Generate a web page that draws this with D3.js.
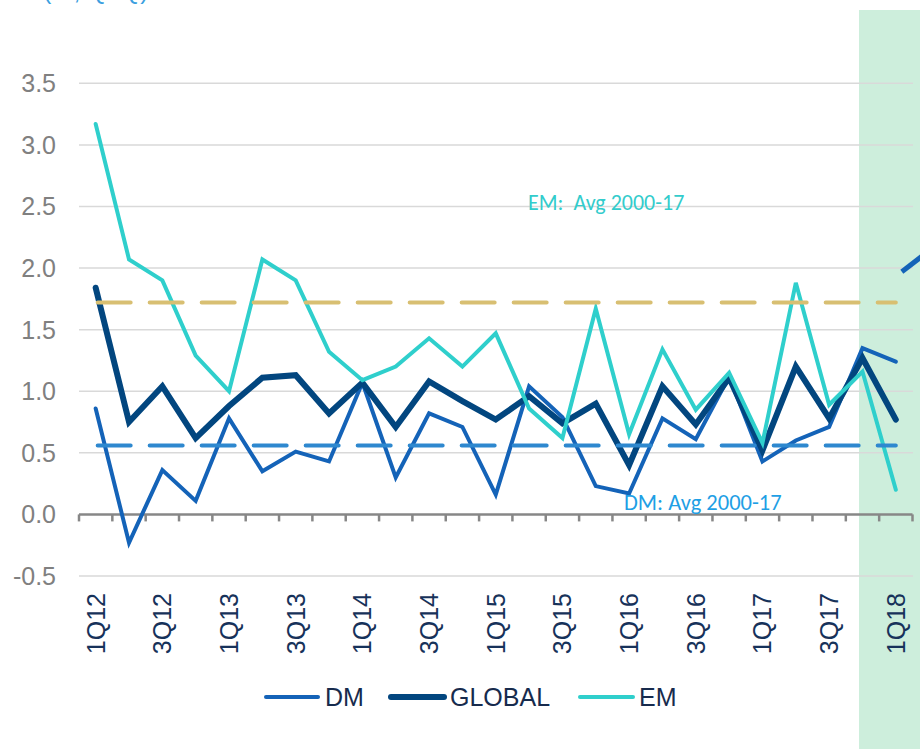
<!DOCTYPE html>
<html>
<head>
<meta charset="utf-8">
<script src="https://cdn.jsdelivr.net/npm/d3@7"></script>
<style>
  body { margin: 0; background: #fff; }
  svg { display: block; font-family: "Liberation Sans", Arial, sans-serif; }
</style>
</head>
<body>
<div class="chart-container"></div>
<script>
// quarters 1Q12 .. 1Q18
var quarters = ["1Q12","2Q12","3Q12","4Q12","1Q13","2Q13","3Q13","4Q13",
  "1Q14","2Q14","3Q14","4Q14","1Q15","2Q15","3Q15","4Q15",
  "1Q16","2Q16","3Q16","4Q16","1Q17","2Q17","3Q17","4Q17","1Q18"];

var dmValues = [0.86,-0.23,0.36,0.11,0.78,0.35,0.51,0.43,
  1.07,0.30,0.82,0.71,0.16,1.04,0.79,0.23,
  0.17,0.78,0.61,1.12,0.43,0.60,0.71,1.35,1.24];

var globalValues = [1.84,0.75,1.04,0.62,0.88,1.11,1.13,0.82,
  1.07,0.71,1.08,0.92,0.77,0.96,0.74,0.90,
  0.40,1.04,0.73,1.11,0.52,1.20,0.78,1.27,0.77];

var emValues = [3.17,2.07,1.90,1.29,1.00,2.07,1.90,1.32,
  1.09,1.20,1.43,1.20,1.47,0.86,0.62,1.67,
  0.65,1.34,0.85,1.15,0.58,1.88,0.89,1.16,0.20];

var emAvg = 1.72;
var dmAvg = 0.56;

var yTicks = [-0.5,0,0.5,1.0,1.5,2.0,2.5,3.0,3.5];
var xTickLabels = ["1Q12","3Q12","1Q13","3Q13","1Q14","3Q14","1Q15","3Q15",
  "1Q16","3Q16","1Q17","3Q17","1Q18"];

var series = [
  {name: "DM", values: dmValues, color: "#1463b8", width: 4},
  {name: "GLOBAL", values: globalValues, color: "#02467f", width: 6},
  {name: "EM", values: emValues, color: "#2fcfcc", width: 4}
];

var width = 920, height = 749;

var svg = d3.select(".chart-container")
  .append("svg")
    .attr("width", width)
    .attr("height", height);

var x = d3.scaleBand()
  .domain(quarters)
  .range([79, 912.5]);

var y = d3.scaleLinear()
  .domain([-0.5, 3.5])
  .range([576, 83.3]);

function cx(q){ return x(q) + x.bandwidth()/2; }

// shaded forecast area
svg.append("rect")
  .attr("x", cx("4Q17") - 3.5)
  .attr("y", 10)
  .attr("width", width - (cx("4Q17") - 3.5))
  .attr("height", height - 10)
  .style("fill", "#cdeedc");

// top label, cut off at the edge like the source
svg.append("text")
  .attr("x", 43)
  .attr("y", -1)
  .style("font-size", "25px")
  .style("fill", "#3c9fe0")
  .text("(%, QoQ)");

// gridlines
svg.append("g")
  .selectAll("line")
  .data(yTicks.filter(function(d){ return d != 0; }))
  .enter()
  .append("line")
    .attr("x1", 79)
    .attr("x2", 913)
    .attr("y1", function(d){ return y(d); })
    .attr("y2", function(d){ return y(d); })
    .style("stroke", "#d9d9d9")
    .style("stroke-width", 1.5);

// y labels (plain hyphen for negatives)
svg.append("g")
  .selectAll("text")
  .data(yTicks)
  .enter()
  .append("text")
    .attr("x", 56)
    .attr("y", function(d){ return y(d); })
    .attr("dy", "0.36em")
    .attr("text-anchor", "end")
    .style("font-size", "25px")
    .style("fill", "#808080")
    .text(function(d){ return d.toFixed(1); });

// x axis at zero
var gx = svg.append("g")
  .attr("transform", "translate(0," + y(0) + ")");
gx.append("line")
  .attr("x1", 79).attr("x2", 912.5)
  .style("stroke", "#878787").style("stroke-width", 2.5);
gx.selectAll(".band-tick")
  .data(quarters.concat(["end"]))
  .enter()
  .append("line")
    .attr("x1", function(d,i){ return 79 + i*x.step(); })
    .attr("x2", function(d,i){ return 79 + i*x.step(); })
    .attr("y1", 0).attr("y2", 7)
    .style("stroke", "#878787").style("stroke-width", 2.5);

// x tick labels rotated
svg.append("g")
  .selectAll("text")
  .data(xTickLabels)
  .enter()
  .append("text")
    .attr("transform", function(d){
      return "translate(" + cx(d) + ",593) rotate(-90)";
    })
    .attr("dy", "0.36em")
    .attr("text-anchor", "end")
    .style("font-size", "25px")
    .style("fill", "#17325a")
    .text(function(d){ return d; });

// data lines
var line = d3.line()
  .x(function(d,i){ return cx(quarters[i]); })
  .y(function(d){ return y(d); });

svg.append("g")
  .selectAll("path")
  .data(series)
  .enter()
  .append("path")
    .attr("d", function(d){ return line(d.values); })
    .style("fill", "none")
    .style("stroke", function(d){ return d.color; })
    .style("stroke-width", function(d){ return d.width; })
    .style("stroke-linejoin", "miter")
    .style("stroke-linecap", "round");

// average lines
var avgLines = [
  {value: emAvg, color: "#d8bf72"},
  {value: dmAvg, color: "#2e88cf"}
];
svg.append("g")
  .selectAll("line")
  .data(avgLines)
  .enter()
  .append("line")
    .attr("x1", cx("1Q12") + 2)
    .attr("x2", cx("1Q18"))
    .attr("y1", function(d){ return y(d.value); })
    .attr("y2", function(d){ return y(d.value); })
    .style("stroke", function(d){ return d.color; })
    .style("stroke-width", 4)
    .style("stroke-linecap", "round")
    .style("stroke-dasharray", "33,19");

// avg annotations
svg.append("text")
  .attr("x", 528).attr("y", 210)
  .style("font-family", "Carlito, Lato, sans-serif")
  .style("font-size", "22px")
  .style("fill", "#33cccc")
  .attr("xml:space", "preserve")
  .text("EM:  Avg 2000-17");

svg.append("text")
  .attr("x", 624).attr("y", 510)
  .style("font-family", "Carlito, Lato, sans-serif")
  .style("font-size", "22.5px")
  .style("fill", "#1f9fe5")
  .text("DM: Avg 2000-17");

// partial arrow at top right
svg.append("line")
  .attr("x1", cx("1Q18") + 6).attr("y1", y(1.97))
  .attr("x2", cx("1Q18") + 30).attr("y2", y(2.12))
  .style("stroke", "#1463b8")
  .style("stroke-width", 5);

// legend
var legendItems = [
  {name: "DM", color: "#1463b8", width: 4, x1: 266, x2: 318, tx: 325},
  {name: "GLOBAL", color: "#02467f", width: 6, x1: 391, x2: 444, tx: 450},
  {name: "EM", color: "#2fcfcc", width: 4, x1: 580, x2: 633, tx: 639}
];
var lgd = svg.selectAll(".entry")
  .data(legendItems)
  .enter()
  .append("g")
  .attr("class", "entry");
lgd.append("line")
  .attr("x1", function(d){ return d.x1; })
  .attr("x2", function(d){ return d.x2; })
  .attr("y1", 697).attr("y2", 697)
  .style("stroke", function(d){ return d.color; })
  .style("stroke-width", function(d){ return d.width; })
  .style("stroke-linecap", "round");
lgd.append("text")
  .attr("x", function(d){ return d.tx; })
  .attr("y", 697)
  .attr("dy", "0.36em")
  .style("font-size", "25px")
  .style("fill", "#172b4d")
  .text(function(d){ return d.name; });
</script>
</body>
</html>
